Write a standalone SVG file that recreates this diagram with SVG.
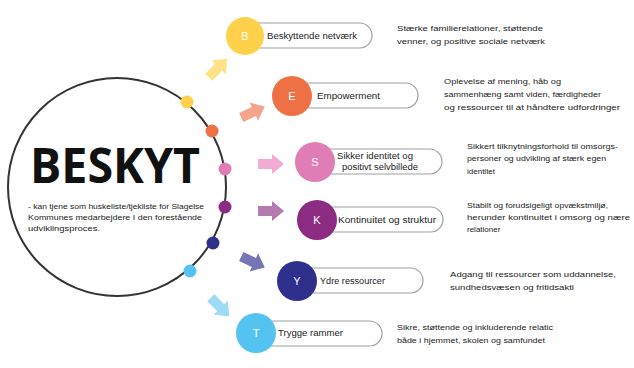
<svg xmlns="http://www.w3.org/2000/svg" width="634" height="368" viewBox="0 0 634 368">
<defs>
<style>
text{font-family:"Liberation Sans",Arial,sans-serif;fill:#222}
.pill{fill:#fff;stroke:#a0a0a0;stroke-width:1.2}
.lbl{font-size:8.5px}
.desc{font-size:8px}
.ltr{font-size:11px;fill:#fff;text-anchor:middle}
</style>
<path id="arr" d="M-13,-5 L1,-5 L1,-10 L13,0 L1,10 L1,5 L-13,5 Z"/>
</defs>
<rect width="634" height="368" fill="#fff"/>
<g id="hub">
<circle cx="117" cy="187" r="109" fill="#fff" stroke="#333" stroke-width="2"/>
<text x="30" y="183" style="font-family:'Open Sans',sans-serif;font-weight:bold;font-size:48px;fill:#111" textLength="170" lengthAdjust="spacingAndGlyphs">BESKYT</text>
<text x="28" y="209" style="font-size:7px" textLength="176" lengthAdjust="spacingAndGlyphs">- kan tjene som huskeliste/tjekliste for Slagelse</text>
<text x="28" y="220" style="font-size:7px" textLength="174" lengthAdjust="spacingAndGlyphs">Kommunes medarbejdere I den forestående</text>
<text x="28" y="231" style="font-size:7px" textLength="72" lengthAdjust="spacingAndGlyphs">udviklingsproces.</text>
<circle cx="187" cy="102" r="6.5" fill="#FFD04A"/>
<circle cx="212" cy="131" r="6.5" fill="#EE7045"/>
<circle cx="225" cy="169" r="6.5" fill="#E07DB6"/>
<circle cx="225" cy="207" r="6.5" fill="#8B2B82"/>
<circle cx="213" cy="243" r="6.5" fill="#2F2F8C"/>
<circle cx="190" cy="271" r="6.5" fill="#55C3F0"/>
</g>
<g id="connectors">
<use href="#arr" transform="translate(218,68) rotate(-45)" fill="#FFE188"/>
<use href="#arr" transform="translate(253,112) rotate(-25)" fill="#F4A48A"/>
<use href="#arr" transform="translate(271,164)" fill="#F0ACD2"/>
<use href="#arr" transform="translate(271,211)" fill="#B37BB0"/>
<use href="#arr" transform="translate(253,262) rotate(25)" fill="#7776B4"/>
<use href="#arr" transform="translate(220,307) rotate(45)" fill="#9EDBF6"/>
</g>
<g id="node-B">
<rect class="pill" x="245" y="23" width="127" height="25" rx="12.5"/>
<circle cx="245" cy="36" r="19" fill="#FFD04A"/>
<text class="ltr" x="245" y="40">B</text>
<text class="lbl" x="267" y="39" textLength="90" lengthAdjust="spacingAndGlyphs">Beskyttende netværk</text>
<text class="desc" x="397" y="31" textLength="146" lengthAdjust="spacingAndGlyphs">Stærke familierelationer, støttende</text>
<text class="desc" x="397" y="44" textLength="148" lengthAdjust="spacingAndGlyphs">venner, og positive sociale netværk</text>
</g>
<g id="node-E">
<rect class="pill" x="292" y="83" width="126" height="25" rx="12.5"/>
<circle cx="292" cy="96" r="20" fill="#EE7045"/>
<text class="ltr" x="292" y="100">E</text>
<text class="lbl" x="317" y="99" textLength="63" lengthAdjust="spacingAndGlyphs">Empowerment</text>
<text class="desc" x="444" y="84" textLength="117" lengthAdjust="spacingAndGlyphs">Oplevelse af mening, håb og</text>
<text class="desc" x="444" y="97" textLength="157" lengthAdjust="spacingAndGlyphs">sammenhæng samt viden, færdigheder</text>
<text class="desc" x="444" y="110" textLength="176" lengthAdjust="spacingAndGlyphs">og ressourcer til at håndtere udfordringer</text>
</g>
<g id="node-S">
<rect class="pill" x="315" y="149" width="127" height="25" rx="12.5"/>
<circle cx="315" cy="162" r="20" fill="#E07DB6"/>
<text class="ltr" x="315" y="166">S</text>
<text class="lbl" x="337" y="159" textLength="76" lengthAdjust="spacingAndGlyphs">Sikker identitet og</text>
<text class="lbl" x="342" y="170" textLength="76" lengthAdjust="spacingAndGlyphs">positivt selvbillede</text>
<text class="desc" x="467" y="149" textLength="151" lengthAdjust="spacingAndGlyphs">Sikkert tilknytningsforhold til omsorgs-</text>
<text class="desc" x="467" y="161" textLength="139" lengthAdjust="spacingAndGlyphs">personer og udvikling af stærk egen</text>
<text class="desc" x="467" y="174">identitet</text>
</g>
<g id="node-K">
<rect class="pill" x="317" y="207" width="126" height="25" rx="12.5"/>
<circle cx="317" cy="220" r="20" fill="#8B2B82"/>
<text class="ltr" x="317" y="224">K</text>
<text class="lbl" x="338" y="223" textLength="98" lengthAdjust="spacingAndGlyphs">Kontinuitet og struktur</text>
<text class="desc" x="467" y="208" textLength="141" lengthAdjust="spacingAndGlyphs">Stabilt og forudsigeligt opvækstmiljø,</text>
<text class="desc" x="467" y="220" textLength="163" lengthAdjust="spacingAndGlyphs">herunder kontinuitet i omsorg og nære</text>
<text class="desc" x="467" y="232">relationer</text>
</g>
<g id="node-Y">
<rect class="pill" x="297" y="268" width="126" height="25" rx="12.5"/>
<circle cx="297" cy="281" r="20" fill="#2F2F8C"/>
<text class="ltr" x="297" y="285">Y</text>
<text class="lbl" x="320" y="284" textLength="65" lengthAdjust="spacingAndGlyphs">Ydre ressourcer</text>
<text class="desc" x="450" y="277" textLength="166" lengthAdjust="spacingAndGlyphs">Adgang til ressourcer som uddannelse,</text>
<text class="desc" x="450" y="290" textLength="124" lengthAdjust="spacingAndGlyphs">sundhedsvæsen og fritidsakti</text>
</g>
<g id="node-T">
<rect class="pill" x="256" y="321" width="126" height="25" rx="12.5"/>
<circle cx="256" cy="333" r="20" fill="#55C3F0"/>
<text class="ltr" x="256" y="337">T</text>
<text class="lbl" x="278" y="336" textLength="65" lengthAdjust="spacingAndGlyphs">Trygge rammer</text>
<text class="desc" x="397" y="330" textLength="156" lengthAdjust="spacingAndGlyphs">Sikre, støttende og inkluderende relatic</text>
<text class="desc" x="397" y="343" textLength="148" lengthAdjust="spacingAndGlyphs">både i hjemmet, skolen og samfundet</text>
</g>
</svg>
